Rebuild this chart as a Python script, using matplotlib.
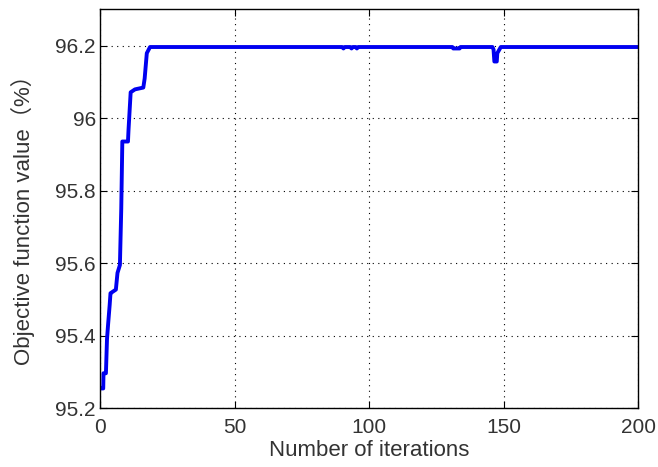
import matplotlib
matplotlib.use('Agg')
import matplotlib.pyplot as plt

# convergence curve
iters = [1, 1.2, 1.3, 2.2, 2.6, 3.0, 3.6, 3.9, 4.5, 5.9, 6.5, 7.4, 7.9, 8.3,
         10.4, 10.6, 11.4, 13.0, 16.1, 16.6, 17.4, 18.6,
         90, 90.5, 91, 93, 93.5, 94, 95, 95.5, 96,
         131, 131.3, 133.7, 134,
         145.9, 146.3, 146.6, 147.5, 147.7, 149, 200]
values = [95.254, 95.254, 95.296, 95.296, 95.39, 95.43, 95.485, 95.517, 95.52, 95.527, 95.573, 95.595, 95.75, 95.936,
          95.936, 95.968, 96.072, 96.08, 96.085, 96.11, 96.18, 96.197,
          96.197, 96.193, 96.197, 96.197, 96.193, 96.197, 96.197, 96.193, 96.197,
          96.197, 96.193, 96.193, 96.197,
          96.197, 96.19, 96.157, 96.157, 96.18, 96.197, 96.197]

x_ticks = [0, 50, 100, 150, 200]
y_ticks = [95.2, 95.4, 95.6, 95.8, 96.0, 96.2]
y_tick_labels = ['95.2', '95.4', '95.6', '95.8', '96', '96.2']

plt.rcParams['font.family'] = ['Liberation Sans', 'Noto Sans CJK SC', 'DejaVu Sans']
txt_col = '#333333'

fig = plt.figure(figsize=(6.58, 4.67), dpi=100)
ax = fig.add_axes([100/658, 59/467, 538/658, 399/467])

ax.plot(iters, values, color='#0000f0', linewidth=2.8)

ax.set_xlim(0, 200)
ax.set_ylim(95.2, 96.302)
ax.set_xticks(x_ticks)
ax.set_yticks(y_ticks)
ax.set_yticklabels(y_tick_labels)
ax.tick_params(direction='in', length=5, width=0.8, labelsize=15, top=True, right=True,
               pad=3, labelcolor=txt_col)
ax.tick_params(axis='x', pad=7)
ax.grid(True, linestyle=(0, (1, 4)), color='black', linewidth=0.8)
for s in ax.spines.values():
    s.set_linewidth(1.0)

ax.set_xlabel('Number of iterations', fontsize=16, labelpad=2, color=txt_col)
ax.set_ylabel('Objective function value（%）', fontsize=16, color=txt_col)
ax.yaxis.set_label_coords(-0.121, 0.484)

fig.savefig('out.png', dpi=100)
